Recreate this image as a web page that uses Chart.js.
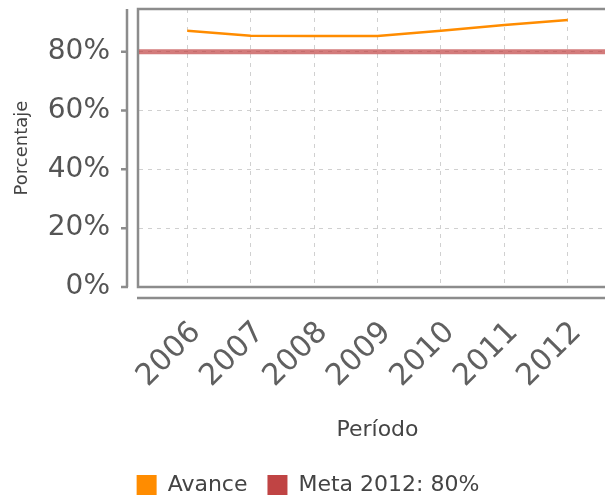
<!DOCTYPE html>
<html>
<head>
<meta charset="utf-8">
<script src="https://cdn.jsdelivr.net/npm/chart.js@4/dist/chart.umd.min.js"></script>
<style>
  html, body { margin: 0; padding: 0; background: #fff; overflow: hidden; }
  #wrap { width: 625px; height: 506px; position: relative; }
</style>
</head>
<body>
<div id="wrap"><canvas id="chart"></canvas></div>
<script>
// datos
const YEARS = [2006, 2007, 2008, 2009, 2010, 2011, 2012];
const AVANCE = [87.1, 85.4, 85.3, 85.3, 87.1, 89.1, 90.8];
const META = 80;
const Y_TICKS = [0, 20, 40, 60, 80];
const X_MIN = 2005.24, X_MAX = 2012.76;
const Y_MAX = 94.5;

const ORANGE = '#ff8c00';
const RED = '#c04444';
const GRID = '#d0d0d0';
const AXIS = '#8c8c8c';
const TEXT = '#555';
const FONT = '"DejaVu Sans", sans-serif';

/* marco del area, eje Y separado y eje X desplazado hacia abajo */
const frame = {
  id: 'frame',
  beforeDatasetsDraw(chart) {
    const { ctx, chartArea: a, scales: { y } } = chart;
    ctx.save();
    ctx.strokeStyle = AXIS;
    ctx.lineWidth = 2.5;
    ctx.strokeRect(a.left - 1, a.top, a.right - a.left + 1, a.bottom - a.top);
    const ax = a.left - 12;
    ctx.beginPath();
    ctx.moveTo(ax, a.top);
    ctx.lineTo(ax, a.bottom);
    Y_TICKS.forEach(v => {
      const py = y.getPixelForValue(v);
      ctx.moveTo(ax + 1, py);
      ctx.lineTo(ax - 6, py);
    });
    ctx.moveTo(a.left - 2, a.bottom + 11);
    ctx.lineTo(chart.width, a.bottom + 11);
    ctx.stroke();
    ctx.restore();
  }
};

new Chart(document.getElementById('chart'), {
  type: 'line',
  data: {
    datasets: [
      { label: 'Avance', data: YEARS.map((yr, i) => ({ x: yr, y: AVANCE[i] })),
        borderColor: ORANGE, backgroundColor: ORANGE, borderWidth: 2.5,
        pointRadius: 0, tension: 0, fill: false },
      { label: 'Meta 2012: 80%', data: [{ x: X_MIN, y: META }, { x: X_MAX, y: META }],
        borderColor: 'rgba(190,60,60,0.68)', backgroundColor: RED, borderWidth: 5,
        pointRadius: 0, tension: 0, fill: false },
    ],
  },
  options: {
    responsive: true, maintainAspectRatio: false, animation: false,
    layout: { padding: { top: 9, right: 9, left: 0, bottom: 0 } },
    plugins: {
      tooltip: { enabled: false },
      legend: {
        position: 'bottom',
        labels: {
          boxWidth: 20, boxHeight: 20, padding: 20, color: '#444',
          font: { family: FONT, size: 22 },
          generateLabels: chart => Chart.defaults.plugins.legend.labels.generateLabels(chart)
            .map(l => ({ ...l, lineWidth: 0, strokeStyle: 'transparent' })),
        },
      },
    },
    scales: {
      x: {
        type: 'linear', min: X_MIN, max: X_MAX,
        afterBuildTicks: s => { s.ticks = YEARS.map(v => ({ value: v })); },
        afterFit: s => { s.height = 167; s.paddingLeft = 0; s.paddingRight = 0; },
        ticks: { autoSkip: false, minRotation: 45, maxRotation: 45, padding: 28, labelOffset: 9,
                 color: '#606060', font: { family: FONT, size: 30 }, callback: v => String(v) },
        grid: { color: GRID, lineWidth: 1, drawTicks: false },
        border: { display: false, dash: [4, 5] },
        title: { display: true, text: 'Período', color: '#444',
                 font: { family: FONT, size: 22 }, padding: { top: 4, bottom: 11 } },
      },
      y: {
        min: 0, max: Y_MAX,
        afterBuildTicks: s => { s.ticks = Y_TICKS.map(v => ({ value: v })); },
        afterFit: s => { s.width = 139; s.paddingTop = 0; s.paddingBottom = 0; },
        ticks: { padding: 29, color: TEXT, font: { family: FONT, size: 28 }, callback: v => v + '%' },
        grid: { color: c => c.tick && c.tick.value === 0 ? 'rgba(0,0,0,0)' : GRID,
                lineWidth: 1, drawTicks: false },
        border: { display: false, dash: [4, 5] },
        title: { display: true, text: 'Porcentaje', color: '#444',
                 font: { family: FONT, size: 18 }, padding: { top: 12, bottom: 0 } },
      },
    },
  },
  plugins: [frame],
});
</script>
</body>
</html>
